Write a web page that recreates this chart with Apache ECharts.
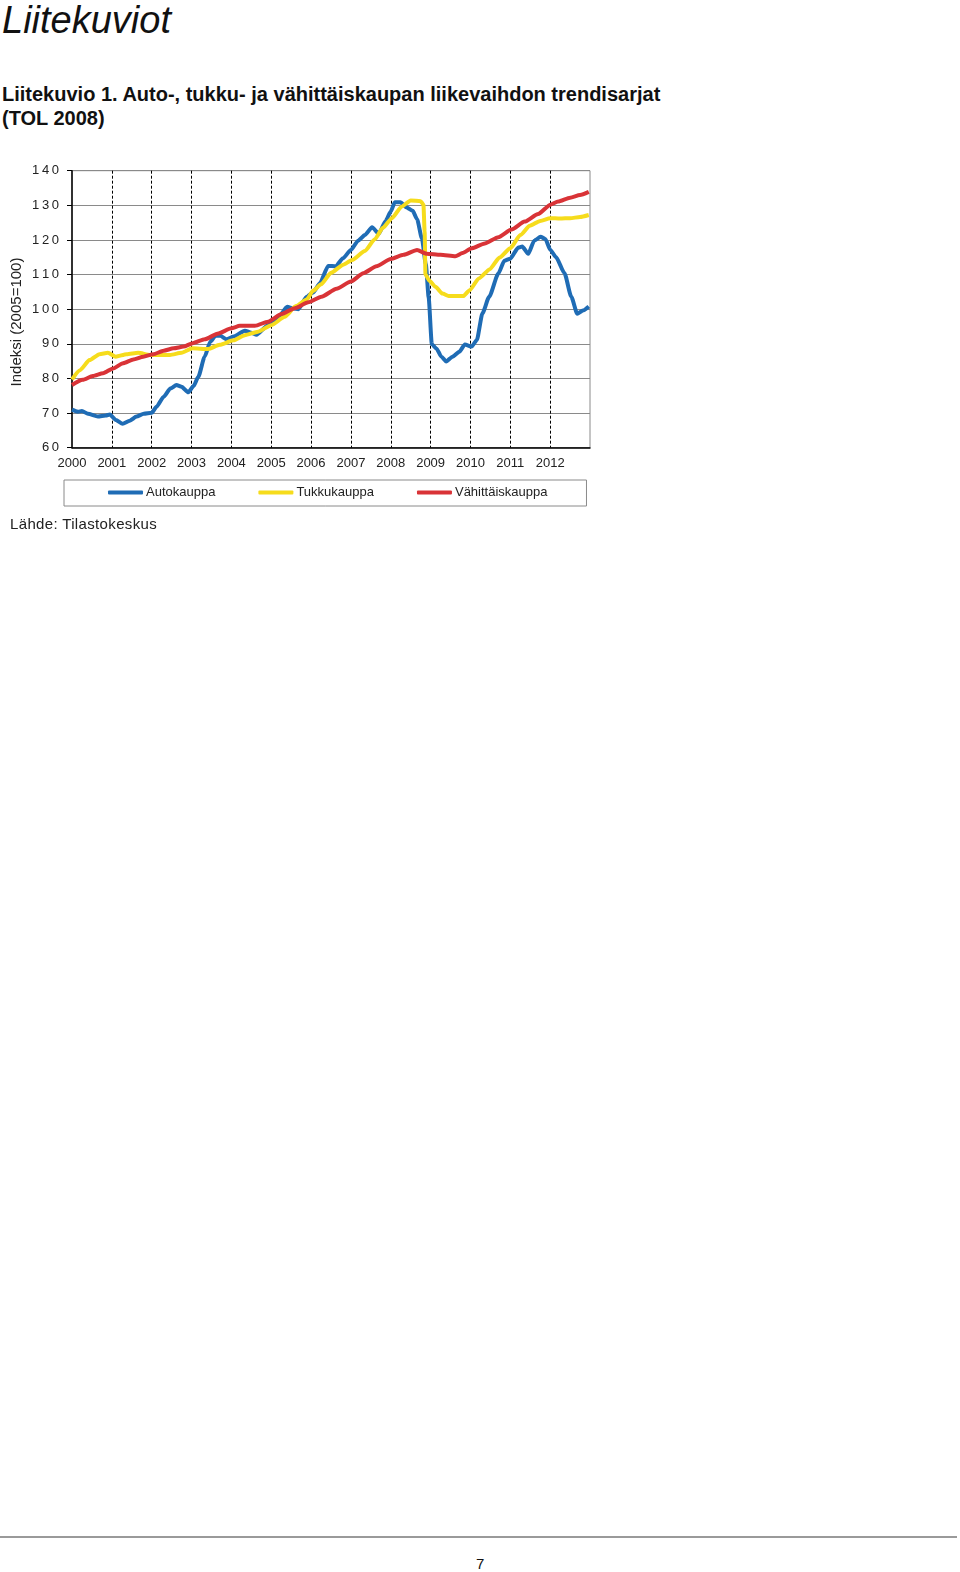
<!DOCTYPE html>
<html>
<head>
<meta charset="utf-8">
<script src="https://cdn.jsdelivr.net/npm/echarts@6/dist/echarts.min.js"></script>
<style>
  html, body { margin: 0; padding: 0; background: #fff; }
  body { width: 960px; height: 1572px; position: relative; overflow: hidden; font-family: "Liberation Sans", Arial, sans-serif; color: #111; }
  .t { position: absolute; white-space: nowrap; line-height: 1; }
</style>
</head>
<body>
<div class="t" style="left:2px; top:1px; font-size:38px; font-style:italic;">Liitekuviot</div>
<div class="t" style="left:2px; top:84px; font-size:20px; font-weight:bold;">Liitekuvio 1. Auto-, tukku- ja vähittäiskaupan liikevaihdon trendisarjat</div>
<div class="t" style="left:2px; top:108px; font-size:20px; font-weight:bold;">(TOL 2008)</div>
<div id="chart" style="position:absolute; left:0; top:140px; width:600px; height:400px;"></div>
<div class="t" style="left:10px; top:516px; font-size:15px; letter-spacing:0.35px; color:#222;">Lähde: Tilastokeskus</div>
<div style="position:absolute; left:0; top:1536px; width:957px; height:2px; background:#9a9a9a;"></div>
<div class="t" style="left:476px; top:1556px; font-size:15px;">7</div>
<script>
const seriesNames = ['Autokauppa', 'Tukkukauppa', 'Vähittäiskauppa'];
const yTicks = [60, 70, 80, 90, 100, 110, 120, 130, 140];
const yearLabels = ['2000','2001','2002','2003','2004','2005','2006','2007','2008','2009','2010','2011','2012'];

const autokauppa = [
  [2000.00, 71.0],[2000.15, 70.4],[2000.25, 70.6],[2000.40, 69.8],[2000.65, 69.0],[2000.85, 69.3],
  [2000.95, 69.6],[2001.10, 68.0],[2001.27, 66.9],[2001.45, 67.8],[2001.62, 69.0],[2001.80, 69.8],
  [2002.00, 70.1],[2002.12, 71.8],[2002.30, 74.7],[2002.47, 77.1],[2002.62, 78.1],[2002.75, 77.6],
  [2002.92, 76.0],[2003.05, 77.8],[2003.17, 80.5],[2003.33, 86.3],[2003.47, 90.6],[2003.60, 92.3],
  [2003.72, 92.3],[2003.88, 91.3],[2004.05, 92.1],[2004.34, 93.8],[2004.50, 93.2],[2004.63, 92.6],
  [2004.92, 95.4],[2005.17, 97.5],[2005.40, 100.7],[2005.55, 100.2],[2005.68, 100.0],[2005.89, 103.6],
  [2006.05, 104.8],[2006.22, 107.5],[2006.43, 112.5],[2006.62, 112.4],[2006.80, 114.7],[2007.00, 117.1],
  [2007.18, 119.8],[2007.35, 121.4],[2007.53, 123.7],[2007.70, 121.8],[2007.87, 125.5],[2008.00, 128.2],
  [2008.10, 130.9],[2008.24, 130.9],[2008.40, 129.4],[2008.55, 128.4],[2008.66, 126.0],[2008.78, 120.5],
  [2008.88, 113.0],[2008.95, 103.5],[2009.03, 89.9],[2009.15, 88.6],[2009.27, 86.3],[2009.39, 84.9],
  [2009.55, 86.3],[2009.72, 87.7],[2009.86, 89.8],[2010.03, 89.2],[2010.16, 91.1],[2010.30, 98.8],
  [2010.47, 103.6],[2010.70, 110.3],[2010.85, 114.0],[2011.00, 114.6],[2011.20, 117.8],[2011.30, 118.1],
  [2011.45, 116.0],[2011.60, 119.8],[2011.76, 120.9],[2011.88, 120.3],[2012.00, 117.2],[2012.15, 115.0],
  [2012.36, 110.4],[2012.53, 103.6],[2012.68, 98.7],[2012.82, 99.6],[2012.97, 100.8]
];

const tukkukauppa = [
  [2000.00, 79.7],[2000.20, 82.4],[2000.44, 85.3],[2000.69, 87.0],[2000.90, 87.4],[2001.10, 86.3],
  [2001.37, 87.0],[2001.66, 87.4],[2001.96, 86.8],[2002.20, 86.8],[2002.46, 86.8],[2002.75, 87.4],
  [2003.02, 88.7],[2003.42, 88.5],[2003.71, 89.7],[2004.05, 91.0],[2004.34, 92.5],[2004.67, 93.5],
  [2005.00, 95.4],[2005.34, 97.8],[2005.62, 100.9],[2005.89, 102.8],[2006.05, 105.3],[2006.25, 107.2],
  [2006.50, 110.5],[2006.80, 112.8],[2007.03, 114.2],[2007.35, 116.8],[2007.60, 120.2],[2007.80, 123.5],
  [2008.03, 126.3],[2008.27, 129.6],[2008.50, 131.4],[2008.75, 131.2],[2008.82, 130.2],[2008.85, 122.5],
  [2008.87, 110.0],[2008.97, 108.2],[2009.12, 106.5],[2009.30, 104.5],[2009.45, 103.8],[2009.82, 103.8],
  [2009.98, 105.5],[2010.21, 108.9],[2010.48, 111.5],[2010.73, 114.9],[2011.00, 117.6],[2011.25, 121.4],
  [2011.49, 124.1],[2011.75, 125.5],[2012.00, 126.3],[2012.25, 126.2],[2012.50, 126.3],[2012.75, 126.6],
  [2012.97, 127.2]
];

const vahittaiskauppa = [
  [2000.00, 78.1],[2000.27, 79.6],[2000.52, 80.7],[2000.78, 81.5],[2001.03, 82.9],[2001.28, 84.4],
  [2001.54, 85.5],[2001.79, 86.3],[2002.04, 87.0],[2002.30, 88.0],[2002.55, 88.7],[2002.80, 89.2],
  [2003.03, 90.2],[2003.33, 91.3],[2003.67, 93.0],[2004.00, 94.5],[2004.21, 95.2],[2004.59, 95.2],
  [2004.92, 96.4],[2005.26, 98.6],[2005.59, 100.3],[2005.93, 102.0],[2006.26, 103.6],[2006.64, 105.9],
  [2007.00, 108.0],[2007.31, 110.4],[2007.64, 112.4],[2008.00, 114.5],[2008.32, 115.7],[2008.66, 117.1],
  [2008.90, 116.0],[2009.25, 115.7],[2009.62, 115.3],[2009.80, 116.2],[2010.03, 117.6],[2010.36, 119.0],
  [2010.70, 120.8],[2011.03, 123.0],[2011.36, 125.3],[2011.70, 127.5],[2012.01, 130.2],[2012.20, 131.1],
  [2012.50, 132.2],[2012.75, 133.0],[2012.97, 133.9]
];

const colors = ['#1f6cb5', '#f6dc1c', '#d93337'];
const FONT = '"Liberation Sans", Arial, sans-serif';

const chart = echarts.init(document.getElementById('chart'), null, { renderer: 'canvas' });

function mkSeries(name, data, color) {
  return {
    name: name, type: 'line', data: data, symbol: 'none', showSymbol: false,
    smooth: 0.2, smoothMonotone: 'x',
    lineStyle: { color: color, width: 4 }, itemStyle: { color: color },
    emphasis: { disabled: true }
  };
}

chart.setOption({
  animation: false,
  color: colors,
  textStyle: { fontFamily: FONT },
  grid: { left: 72, top: 30.7, width: 518, height: 277, show: true, borderColor: '#8a8a8a', borderWidth: 1, containLabel: false },
  xAxis: {
    type: 'value', min: 2000, max: 2013, interval: 1,
    axisLine: { show: true, onZero: false, lineStyle: { color: '#000', width: 1.5 } },
    axisTick: { show: false },
    axisLabel: {
      margin: 9, fontSize: 13, color: '#222', fontFamily: FONT,
      formatter: function (v) { const i = Math.round(v - 2000); return yearLabels[i] !== undefined ? yearLabels[i] : ''; }
    },
    splitLine: { show: true, showMinLine: false, showMaxLine: false, lineStyle: { color: '#000', width: 1, type: [3, 2] } }
  },
  yAxis: {
    type: 'value', min: yTicks[0], max: yTicks[yTicks.length - 1], interval: 10,
    axisLine: { show: true, lineStyle: { color: '#000', width: 1.5 } },
    axisTick: { show: true, length: 5, lineStyle: { color: '#000', width: 1 } },
    axisLabel: {
      margin: 13, fontSize: 13, color: '#222', fontFamily: FONT,
      formatter: function (v) { return String(v).split('').join('\u2009'); }
    },
    splitLine: { show: true, lineStyle: { color: '#8a8a8a', width: 1 } }
  },
  legend: {
    show: true, left: 64, top: 340, orient: 'horizontal',
    padding: [6, 39, 7, 44], itemGap: 43, itemWidth: 35, itemHeight: 4,
    icon: 'roundRect',
    borderColor: '#8a8a8a', borderWidth: 1, borderRadius: 0,
    textStyle: { fontSize: 13, color: '#222', fontFamily: FONT, padding: [0, 0, 0, -2] },
    data: seriesNames
  },
  graphic: [{
    type: 'text', x: 17, y: 182, rotation: Math.PI / 2,
    style: { text: 'Indeksi (2005=100)', font: '15px ' + FONT, fill: '#222', align: 'center', verticalAlign: 'middle' }
  }],
  series: [
    mkSeries(seriesNames[0], autokauppa, colors[0]),
    mkSeries(seriesNames[1], tukkukauppa, colors[1]),
    mkSeries(seriesNames[2], vahittaiskauppa, colors[2])
  ]
});
</script>
</body>
</html>
